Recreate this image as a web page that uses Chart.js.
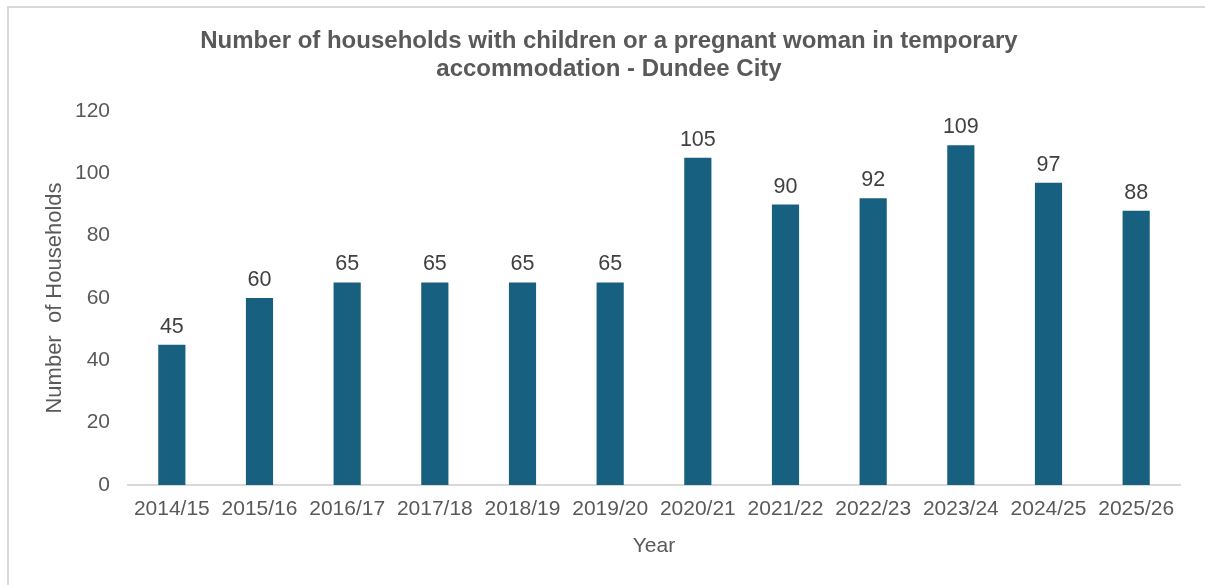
<!DOCTYPE html>
<html>
<head>
<meta charset="utf-8">
<script src="https://cdn.jsdelivr.net/npm/chart.js@4/dist/chart.umd.min.js"></script>
<style>
	html, body { margin: 0; padding: 0; background: #fff; }
	#wrap { position: relative; width: 1205px; height: 585px; overflow: hidden; }
	#frame { position: absolute; left: 7px; top: 6px; right: -5px; bottom: -5px; border-top: 2px solid #d9d9d9; border-left: 2px solid #d9d9d9; }
	canvas { position: absolute; left: 0; top: 0; }
</style>
</head>
<body>
<div id="wrap">
	<div id="frame"></div>
	<canvas id="chart" width="1205" height="585"></canvas>
</div>
<script>
// Chart data
const years = ['2014/15', '2015/16', '2016/17', '2017/18', '2018/19', '2019/20',
	'2020/21', '2021/22', '2022/23', '2023/24', '2024/25', '2025/26'];
const households = [45, 60, 65, 65, 65, 65, 105, 90, 92, 109, 97, 88];
const yTicks = [0, 20, 40, 60, 80, 100, 120];
const titleLines = ['Number of households with children or a pregnant woman in temporary',
	'accommodation - Dundee City'];

const textColor = '#595959';
const fontFamily = 'Arial, "Liberation Sans", sans-serif';

// Chart title, centred on the whole picture rather than the plot
const chartTitle = {
	id: 'chartTitle',
	afterDraw(chart) {
		const ctx = chart.ctx;
		ctx.save();
		ctx.font = 'bold 24px ' + fontFamily;
		ctx.fillStyle = textColor;
		ctx.textAlign = 'center';
		ctx.textBaseline = 'middle';
		titleLines.forEach((line, i) => {
			ctx.fillText(line, 609, 41 + i * 28);
		});
		ctx.restore();
	}
};

// Draws the value above each bar
const valueLabels = {
	id: 'valueLabels',
	afterDatasetsDraw(chart) {
		const ctx = chart.ctx;
		const meta = chart.getDatasetMeta(0);
		ctx.save();
		ctx.font = '21.5px ' + fontFamily;
		ctx.fillStyle = '#404040';
		ctx.textAlign = 'center';
		ctx.textBaseline = 'alphabetic';
		meta.data.forEach((bar, i) => {
			ctx.fillText(households[i], bar.x, bar.y - 12);
		});
		ctx.restore();
	}
};

window.onload = () => {
	let context = document.getElementById('chart');

	new Chart(context, {
		type: 'bar',
		data: {
			labels: years,
			datasets: [{
				data: households,
				backgroundColor: '#17607f',
				barPercentage: 0.31,
				categoryPercentage: 1
			}]
		},
		options: {
			responsive: false,
			animation: false,
			layout: { padding: { left: 0, right: 25, top: 111, bottom: 0 } },
			plugins: {
				legend: { display: false },
				tooltip: { enabled: false },
				title: { display: false }
			},
			scales: {
				x: {
					grid: { display: false, drawTicks: false },
					border: { color: '#d9d9d9', width: 2 },
					ticks: {
						color: textColor,
						font: { family: fontFamily, size: 21 },
						padding: 12,
						maxRotation: 0,
						autoSkip: false
					},
					title: {
						display: true,
						text: 'Year',
						color: textColor,
						font: { family: fontFamily, size: 21 },
						padding: { top: 0, bottom: 26 }
					},
					afterFit(scale) { scale.height = 100; }
				},
				y: {
					min: 0,
					max: 120,
					grid: { display: false, drawTicks: false },
					border: { display: false },
					afterBuildTicks(scale) { scale.ticks = yTicks.map(v => ({ value: v })); },
					ticks: {
						color: textColor,
						font: { family: fontFamily, size: 21 },
						padding: 18
					},
					title: {
						display: true,
						text: 'Number  of Households',
						color: textColor,
						font: { family: fontFamily, size: 22 },
						padding: { top: 42, bottom: 0 }
					},
					afterFit(scale) { scale.width = 128; }
				}
			}
		},
		plugins: [valueLabels, chartTitle]
	});
}
</script>
</body>
</html>
